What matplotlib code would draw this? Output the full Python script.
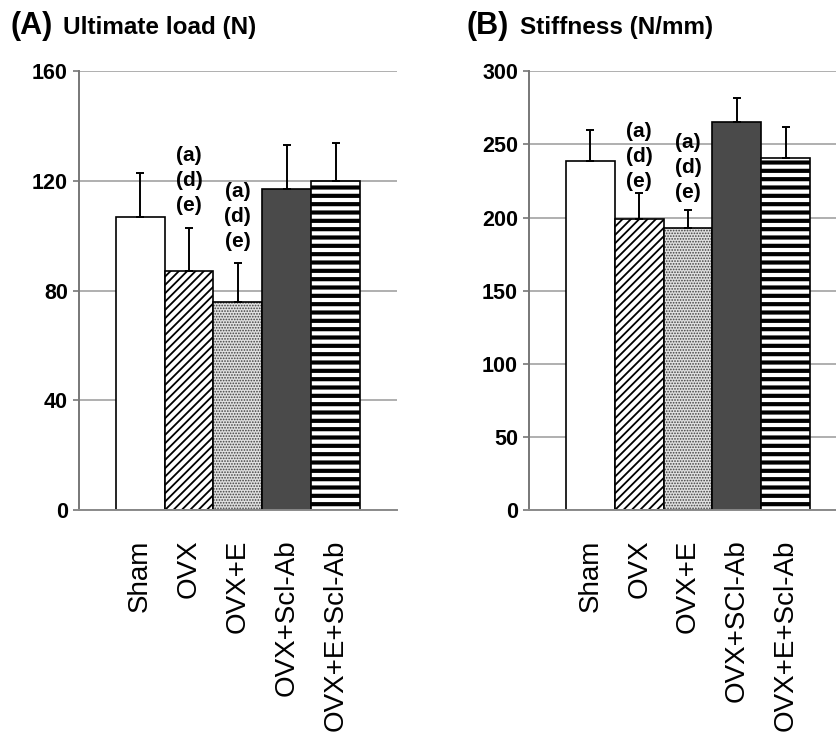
import matplotlib
matplotlib.use("Agg")
import matplotlib.pyplot as plt
import numpy as np

plt.rcParams['font.family'] = ['Liberation Sans', 'DejaVu Sans']

# grupos y valores
grupos = ["Sham", "OVX", "OVX+E", "OVX+Scl-Ab", "OVX+E+Scl-Ab"]
grupos_b = ["Sham", "OVX", "OVX+E", "OVX+SCl-Ab", "OVX+E+Scl-Ab"]

carga = [107, 87, 76, 117, 120]
carga_err = [16, 16, 14, 16, 14]

rigidez = [239, 199, 193, 265, 241]
rigidez_err = [21, 18, 12, 17, 21]

ticks_a = [0, 40, 80, 120, 160]
ticks_b = [0, 50, 100, 150, 200, 250, 300]

letras = "(a)\n(d)\n(e)"
con_letras = [1, 2]


def dibujar_panel(ax, valores, errores, etiquetas, ticks, offsets):
    x = np.arange(len(valores))
    ax.set_axisbelow(True)
    ax.yaxis.grid(True, color="#9a9a9a", linewidth=1.1)

    # Sham: blanco
    ax.bar(x[0], valores[0], width=1.0, color="white", edgecolor="black", linewidth=1.2)
    # OVX: rayado diagonal
    with plt.rc_context({"hatch.linewidth": 1.3}):
        ax.bar(x[1], valores[1], width=1.0, color="white", edgecolor="black",
               linewidth=1.2, hatch="////")
    # OVX+E: punteado gris
    with plt.rc_context({"hatch.linewidth": 0.8}):
        ax.bar(x[2], valores[2], width=1.0, color="#e0e0e0", edgecolor="#404040",
               linewidth=0, hatch="......")
    ax.bar(x[2], valores[2], width=1.0, color="none", edgecolor="black", linewidth=1.2)
    # OVX+Scl-Ab: gris oscuro
    ax.bar(x[3], valores[3], width=1.0, color="#4a4a4a", edgecolor="black", linewidth=1.2)
    # OVX+E+Scl-Ab: rayas horizontales
    with plt.rc_context({"hatch.linewidth": 3.0}):
        ax.bar(x[4], valores[4], width=1.0, color="white", edgecolor="black",
               linewidth=1.2, hatch="--")

    ax.errorbar(x, valores, yerr=[np.zeros(len(errores)), errores], fmt="none",
                ecolor="black", elinewidth=1.4, capsize=3, capthick=1.4)

    for i, off in zip(con_letras, offsets):
        ax.annotate(letras, xy=(x[i], valores[i] + errores[i]), xytext=(0, off),
                    textcoords="offset points", ha="center", va="bottom",
                    fontsize=15, fontweight="bold", linespacing=1.4)

    ax.set_xlim(-1.25, 5.25)
    ax.set_ylim(0, ticks[-1])
    ax.set_yticks(ticks)
    ax.set_yticklabels([str(t) for t in ticks], fontsize=15.5, fontweight="bold")
    ax.set_xticks(x)
    ax.set_xticklabels(etiquetas, rotation=90, fontsize=20)
    ax.tick_params(axis="x", length=0, pad=21)
    ax.tick_params(axis="y", length=4, width=1.2, color="#777777", pad=4)

    for s in ["top", "right"]:
        ax.spines[s].set_visible(False)
    ax.spines["left"].set_color("#777777")
    ax.spines["left"].set_linewidth(1.4)
    ax.spines["bottom"].set_color("#8a8a8a")
    ax.spines["bottom"].set_linewidth(1.4)


fig = plt.figure(figsize=(8.36, 7.35), dpi=100)

ax1 = fig.add_axes([0.0945, 0.306, 0.380, 0.597])
dibujar_panel(ax1, carga, carga_err, grupos, ticks_a, [9, 9])

ax2 = fig.add_axes([0.633, 0.306, 0.380, 0.597])
dibujar_panel(ax2, rigidez, rigidez_err, grupos_b, ticks_b, [1, 6])

fig.text(10 / 836, 1 - 34 / 735, "(A)", fontsize=22, fontweight="bold", va="baseline")
fig.text(63 / 836, 1 - 34 / 735, "Ultimate load (N)", fontsize=17.5, fontweight="bold", va="baseline")
fig.text(467 / 836, 1 - 34 / 735, "(B)", fontsize=22, fontweight="bold", va="baseline")
fig.text(520 / 836, 1 - 34 / 735, "Stiffness (N/mm)", fontsize=17.5, fontweight="bold", va="baseline")

fig.savefig("out.png", dpi=100)
